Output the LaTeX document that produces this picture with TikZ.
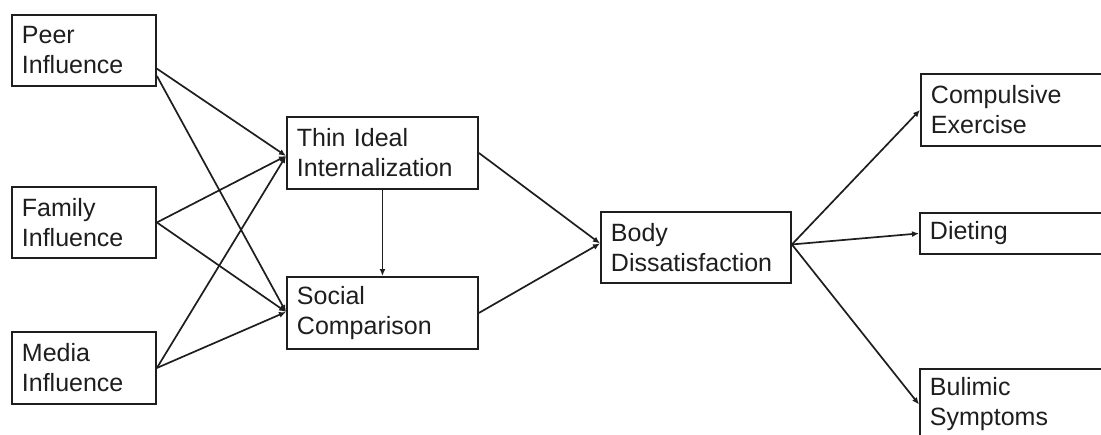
\documentclass[tikz,border=0pt]{standalone}
\usepackage{fontspec}
\setmainfont{Liberation Sans}
\usetikzlibrary{arrows.meta,calc}
\definecolor{ink}{HTML}{1E1E1E}
\begin{document}
\begin{tikzpicture}[x=1pt,y=-1pt,
  box/.style={draw=ink, line width=1.9pt, anchor=north west, inner xsep=10pt, inner ysep=0pt,
    align=left, font=\fontsize{25}{30}\selectfont, text=ink},
  conn/.style={draw=ink, line width=1.7pt, -{Latex[length=7pt,width=6pt]}}]
\clip (0,0) rectangle (1101,434);
\fill[white] (0,0) rectangle (1101,434);
% left column
\node[box, minimum width=144pt, minimum height=71pt, text width=124pt] (peer) at (11,14) {Peer\\Influence};
\node[box, minimum width=144pt, minimum height=71pt, text width=124pt] (family) at (11,186) {Family\\Influence};
\node[box, minimum width=144pt, minimum height=72pt, text width=124pt] (media) at (11,331) {Media\\Influence};
% middle
\node[box, minimum width=191pt, minimum height=72pt, text width=171pt] (thin) at (286,116) {Thin Ideal\\Internalization};
\node[box, minimum width=191pt, minimum height=72pt, text width=171pt] (social) at (286,276) {Social\\Comparison};
\node[box, minimum width=190pt, minimum height=71pt, text width=170pt] (body) at (600,211) {Body\\Dissatisfaction};
% right (cut off at the edge)
\node[box, minimum width=220pt, minimum height=72pt, text width=200pt] (comp) at (920,73) {Compulsive\\Exercise};
\node[box, minimum width=220pt, minimum height=41pt, text width=200pt] (diet) at (919,212) {Dieting};
\node[box, minimum width=220pt, minimum height=71pt, text width=200pt] (bul) at (919,368) {Bulimic\\Symptoms};
% connector end points
\coordinate (p1) at ($(peer.north east)!0.75!(peer.south east)$);
\coordinate (p2) at ($(peer.north east)!0.85!(peer.south east)$);
\coordinate (tin) at ($(thin.west)+(0,3)$);
\coordinate (sin) at ($(social.west)+(0,-1)$);
\coordinate (bin) at ($(body.west)+(0,-4)$);
\coordinate (bout) at ($(body.east)+(0,-3)$);
% connectors
\draw[conn] (p1) -- (tin);
\draw[conn] (p2) -- (sin);
\draw[conn] (family.east) -- (tin);
\draw[conn] (family.east) -- (sin);
\draw[conn] (media.east) -- (tin);
\draw[conn] (media.east) -- (sin);
\draw[conn] (thin.south) -- (social.north);
\draw[conn] (thin.east) -- (bin);
\draw[conn] (social.east) -- (bin);
\draw[conn] (bout) -- (comp.west);
\draw[conn] (bout) -- (diet.west);
\draw[conn] (bout) -- (bul.west);
\end{tikzpicture}
\end{document}
